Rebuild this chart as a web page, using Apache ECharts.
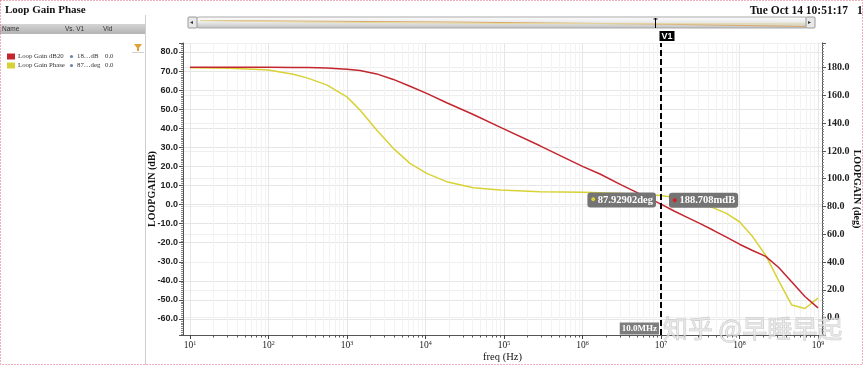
<!DOCTYPE html>
<html><head><meta charset="utf-8">
<script src="https://cdn.jsdelivr.net/npm/echarts@6/dist/echarts.min.js"></script>
<style>html,body{margin:0;padding:0;background:#fff}#c{width:865px;height:365px}</style>
</head><body><div id="c"></div>
<script>
// ---- data ----
const freqHz = [10, 31.6, 78, 100, 207, 316, 551, 1000, 1466, 2388, 3890, 6353, 10350, 18620, 40640, 88920, 287700, 1e6, 1.67e6, 3.16e6, 1e7, 1.468e7, 2.154e7, 3.162e7, 4.642e7, 6.813e7, 1e8, 1.468e8, 2.154e8, 3.162e8, 4.642e8, 6.813e8, 1e9];
const gainDb = [72.0, 72.0, 72.0, 72.0, 71.9, 71.8, 71.6, 71.0, 70.3, 68.5, 65.6, 62.0, 58.3, 53.4, 47.2, 40.6, 30.8, 20.0, 16.0, 10.2, 0.19, -3.4, -6.7, -10.0, -13.5, -17.1, -20.8, -24.1, -27.2, -33.0, -40.6, -48.2, -54.2];
const phaseDeg = [180.0, 179.6, 178.7, 178.3, 175.3, 172.5, 167.6, 159.0, 149.5, 135.1, 121.9, 111.1, 103.9, 97.9, 93.5, 91.9, 90.7, 90.2, 89.9, 89.4, 87.93, 86.5, 84.8, 82.3, 79.0, 75.0, 69.0, 58.3, 44.9, 26.4, 9.0, 6.5, 14.0];
const seriesNames = ['Loop Gain dB20', 'Loop Gain Phase'];
const seriesColors = ['#c3262f', '#d8d236'];
const xMajorTicks = [10, 100, 1e3, 1e4, 1e5, 1e6, 1e7, 1e8, 1e9];
const xMinorTicks = [];
for (let d = 1; d < 9; d++) { for (let m = 2; m <= 9; m++) xMinorTicks.push(m * Math.pow(10, d)); }
const cursorFreq = 1e7;
const cursorGain = 0.188708;
const cursorPhase = 87.92902;
const cursorGainText = '188.708mdB';
const cursorPhaseText = '87.92902deg';
const cursorFreqText = '10.0MHz';
const cursorName = 'V1';
const tableCol1 = ['18…dB', '87…deg'];
const tableCol2 = ['0.0', '0.0'];

const serif = 'Liberation Serif';
const chart = echarts.init(document.getElementById('c'));

const labelBox = {
  backgroundColor: '#747474', borderRadius: 3, padding: [2, 3, 2, 3]
};

chart.setOption({
  animation: false,
  backgroundColor: '#fff',
  title: [
    { text: 'Loop Gain Phase', left: 5, top: 5, padding: 0, textStyle: { fontFamily: serif, fontWeight: 'bold', fontSize: 11, color: '#111' } },
    { text: 'Tue Oct 14 10:51:17', right: 17, top: 5, padding: 0, textStyle: { fontFamily: serif, fontWeight: 'bold', fontSize: 11.5, color: '#111' } }
  ],
  legend: {
    data: seriesNames, left: 7, top: 53, padding: 0, orient: 'vertical', icon: 'rect',
    itemWidth: 8, itemHeight: 6, itemGap: 2,
    textStyle: { fontFamily: serif, fontSize: 6.8, color: '#333', padding: [0, 0, 0, -2] }
  },
  grid: { left: 183, right: 43, top: 43, bottom: 30, outerBoundsMode: 'none', containLabel: false },
  xAxis: [
    {
      type: 'log', logBase: 10, min: 8.15, max: 1.125e9,
      name: 'freq (Hz)', nameLocation: 'middle', nameGap: 17, nameMoveOverlap: false,
      nameTextStyle: { fontFamily: serif, fontSize: 10.5, color: '#111' },
      axisLine: { show: true, onZero: false, lineStyle: { color: '#555' } },
      axisTick: { show: true, length: 4, customValues: xMajorTicks, lineStyle: { color: '#444' } },
      axisLabel: {
        customValues: xMajorTicks, margin: 5,
        formatter: v => '{b|10}{s|' + Math.round(Math.log10(v)) + '}',
        rich: {
          b: { fontFamily: serif, fontSize: 9.5, color: '#222' },
          s: { fontFamily: serif, fontSize: 6, color: '#222', verticalAlign: 'top', lineHeight: 7 }
        }
      },
      splitLine: { show: true, lineStyle: { color: '#e6e6e6', width: 1 } }
    },
    {
      type: 'log', logBase: 10, min: 8.15, max: 1.125e9, gridIndex: 0, position: 'bottom',
      axisLine: { show: false, onZero: false },
      axisTick: { show: true, length: 2.5, customValues: xMinorTicks, lineStyle: { color: '#555' } },
      axisLabel: { show: false },
      splitLine: { show: true, lineStyle: { color: '#f3f3f3', width: 1 } }
    }
  ],
  yAxis: [
    {
      type: 'value', min: -68.4, max: 84.7, splitNumber: 15, position: 'left',
      name: 'LOOPGAIN (dB)', nameLocation: 'middle', nameGap: 26, nameRotate: 90, nameMoveOverlap: false,
      nameTextStyle: { fontFamily: serif, fontWeight: 'bold', fontSize: 10, color: '#111' },
      axisLine: { show: true, onZero: false, lineStyle: { color: '#555' } },
      axisTick: { show: true, length: 4, lineStyle: { color: '#555' } },
      minorTick: { show: true, splitNumber: 10, length: 2, lineStyle: { color: '#888' } },
      axisLabel: {
        showMinLabel: false, showMaxLabel: false, margin: 5,
        fontFamily: 'Liberation Sans', fontWeight: 'bold', fontSize: 9, color: '#222',
        formatter: v => v.toFixed(1)
      },
      splitLine: { show: true, lineStyle: { color: '#e6e6e6' } }
    },
    {
      type: 'value', min: -12.6, max: 197.8, splitNumber: 10, position: 'right',
      name: 'LOOPGAIN (deg)', nameLocation: 'middle', nameGap: 30, nameRotate: -90, nameMoveOverlap: false,
      nameTextStyle: { fontFamily: serif, fontWeight: 'bold', fontSize: 10, color: '#111' },
      axisLine: { show: true, onZero: false, lineStyle: { color: '#555' } },
      axisTick: { show: true, length: 4, lineStyle: { color: '#555' } },
      minorTick: { show: true, splitNumber: 10, length: 2, lineStyle: { color: '#888' } },
      axisLabel: {
        showMinLabel: false, showMaxLabel: false, margin: 5,
        fontFamily: serif, fontWeight: 'bold', fontSize: 10, color: '#222',
        formatter: v => v.toFixed(1)
      },
      splitLine: { show: true, lineStyle: { color: '#efefef' } }
    }
  ],
  series: [
    {
      name: seriesNames[0], type: 'line', xAxisIndex: 0, yAxisIndex: 0,
      data: freqHz.map((f, i) => [f, gainDb[i]]),
      showSymbol: false, color: seriesColors[0], lineStyle: { width: 1.5, color: seriesColors[0] }, z: 3,
      markLine: {
        silent: true, symbol: ['none', 'none'], animation: false,
        lineStyle: { color: '#000', type: [6, 3], width: 2 },
        label: {
          show: true, position: 'end', formatter: cursorName, distance: 2,
          backgroundColor: '#000', color: '#fff', fontWeight: 'bold', fontFamily: 'Liberation Sans', fontSize: 9,
          padding: [1, 2, 0, 2], offset: [6, 0]
        },
        data: [{ xAxis: cursorFreq }]
      },
      markPoint: {
        symbol: 'circle', symbolSize: 0, silent: true, animation: false, z: 10,
        data: [
          {
            coord: [cursorFreq, cursorGain],
            label: Object.assign({
              show: true, position: 'right', distance: 8, offset: [0, -4],
              formatter: '{d|●}{t|' + cursorGainText + '}',
              rich: {
                d: { color: '#d81e1e', fontSize: 9, padding: [0, 2, 0, 0] },
                t: { color: '#fff', fontFamily: serif, fontWeight: 'bold', fontSize: 10.5 }
              }
            }, labelBox)
          },
          {
            coord: [cursorFreq, -65],
            label: {
              show: true, position: 'left', distance: 2,
              formatter: cursorFreqText, color: '#fff', fontFamily: serif, fontWeight: 'bold', fontSize: 9,
              backgroundColor: '#7d7d7d', padding: [2, 2, 1, 2]
            }
          }
        ]
      }
    },
    {
      name: seriesNames[1], type: 'line', xAxisIndex: 0, yAxisIndex: 1,
      data: freqHz.map((f, i) => [f, phaseDeg[i]]),
      showSymbol: false, color: seriesColors[1], lineStyle: { width: 1.5, color: seriesColors[1] }, z: 2,
      markPoint: {
        symbol: 'circle', symbolSize: 0, silent: true, animation: false, z: 10,
        data: [
          {
            coord: [cursorFreq, cursorPhase],
            label: Object.assign({
              show: true, position: 'left', distance: 5, offset: [0, 4.5],
              formatter: '{d|●}{t|' + cursorPhaseText + '}',
              rich: {
                d: { color: '#d8d236', fontSize: 9, padding: [0, 2, 0, 0] },
                t: { color: '#fff', fontFamily: serif, fontWeight: 'bold', fontSize: 10.5 }
              }
            }, labelBox)
          }
        ]
      }
    }
  ],
  graphic: [
    // page border
    { type: 'rect', z: 100, silent: true, shape: { x: 0.5, y: 0.5, width: 862, height: 364 },
      style: { fill: 'none', stroke: '#e0607c', lineWidth: 1, lineDash: [1, 2] } },
    // left panel separator
    { type: 'line', z: 1, shape: { x1: 145.5, y1: 15, x2: 145.5, y2: 365 }, style: { stroke: '#cfcfcf', lineWidth: 1 } },
    // table header
    { type: 'rect', z: 1, shape: { x: 0, y: 24, width: 145, height: 10 },
      style: { fill: new echarts.graphic.LinearGradient(0, 0, 0, 1, [{ offset: 0, color: '#d4d4d4' }, { offset: 1, color: '#b4b4b4' }]) } },
    { type: 'text', z: 2, x: 2, y: 29, style: { text: 'Name', fontSize: 6.5, fontFamily: 'Liberation Sans', fill: '#333', verticalAlign: 'middle' } },
    { type: 'text', z: 2, x: 65, y: 29, style: { text: 'Vs. V1', fontSize: 6.5, fontFamily: 'Liberation Sans', fill: '#333', verticalAlign: 'middle' } },
    { type: 'text', z: 2, x: 103, y: 29, style: { text: 'Vid', fontSize: 6.5, fontFamily: 'Liberation Sans', fill: '#333', verticalAlign: 'middle' } },
    // filter icon
    { type: 'polygon', z: 2, shape: { points: [[134, 44], [142, 44], [139, 48], [139, 51], [137, 51], [137, 48]] }, style: { fill: '#e2a23a' } },
    { type: 'line', z: 2, shape: { x1: 132, y1: 52.5, x2: 144, y2: 52.5 }, style: { stroke: '#d0d0d0' } },
    // table columns
    { type: 'circle', z: 2, shape: { cx: 71.5, cy: 56.5, r: 1.6 }, style: { fill: '#6b86a8' } },
    { type: 'text', z: 2, x: 77, y: 56.5, style: { text: tableCol1[0], fontSize: 6.8, fontFamily: serif, fill: '#333', verticalAlign: 'middle' } },
    { type: 'text', z: 2, x: 105, y: 56.5, style: { text: tableCol2[0], fontSize: 6.8, fontFamily: serif, fill: '#333', verticalAlign: 'middle' } },
    { type: 'circle', z: 2, shape: { cx: 71.5, cy: 65.5, r: 1.6 }, style: { fill: '#6b86a8' } },
    { type: 'text', z: 2, x: 77, y: 65.5, style: { text: tableCol1[1], fontSize: 6.8, fontFamily: serif, fill: '#333', verticalAlign: 'middle' } },
    { type: 'text', z: 2, x: 105, y: 65.5, style: { text: tableCol2[1], fontSize: 6.8, fontFamily: serif, fill: '#333', verticalAlign: 'middle' } },
    // top slider
    { type: 'rect', z: 2, shape: { x: 196, y: 17, width: 612, height: 11, r: 3 },
      style: { fill: new echarts.graphic.LinearGradient(0, 0, 0, 1, [{ offset: 0, color: '#ffffff' }, { offset: 0.45, color: '#ececec' }, { offset: 1, color: '#bdbdbd' }]), stroke: '#a9a9a9' } },
    { type: 'polyline', z: 3, shape: { points: [[200, 20.5], [450, 22], [650, 24], [805, 26.5]] }, style: { stroke: '#d9a96a', lineWidth: 1, fill: 'none' } },
    { type: 'polyline', z: 3, shape: { points: [[200, 20.5], [300, 22], [500, 23.5], [805, 24]] }, style: { stroke: '#e6d9a0', lineWidth: 1, fill: 'none' } },
    { type: 'rect', z: 3, shape: { x: 188, y: 17, width: 9, height: 11, r: 1 }, style: { fill: '#e8e8e8', stroke: '#999' } },
    { type: 'text', z: 4, x: 190, y: 22.5, style: { text: '◂', fontSize: 6, fill: '#333', verticalAlign: 'middle' } },
    { type: 'rect', z: 3, shape: { x: 806, y: 17, width: 9, height: 11, r: 1 }, style: { fill: '#e8e8e8', stroke: '#999' } },
    { type: 'text', z: 4, x: 808, y: 22.5, style: { text: '▸', fontSize: 6, fill: '#333', verticalAlign: 'middle' } },
    { type: 'line', z: 4, shape: { x1: 655.5, y1: 18, x2: 655.5, y2: 28 }, style: { stroke: '#000', lineWidth: 1 } },
    { type: 'line', z: 4, shape: { x1: 653.5, y1: 19, x2: 657.5, y2: 19 }, style: { stroke: '#000', lineWidth: 1 } },
    // page number fragment
    { type: 'text', z: 5, x: 857, y: 11, style: { text: '1', fontSize: 11.5, fontFamily: serif, fontWeight: 'bold', fill: '#111', verticalAlign: 'middle' } },
    // watermark
    { type: 'text', z: 200, x: 663, y: 328, silent: true,
      style: { text: '知乎 @早睡早起', fontSize: 25, fontFamily: 'Noto Sans CJK SC', fill: 'rgba(228,228,228,0.7)', stroke: 'rgba(150,150,150,0.5)', lineWidth: 0.8, verticalAlign: 'middle' } }
  ]
});
</script>
</body></html>
